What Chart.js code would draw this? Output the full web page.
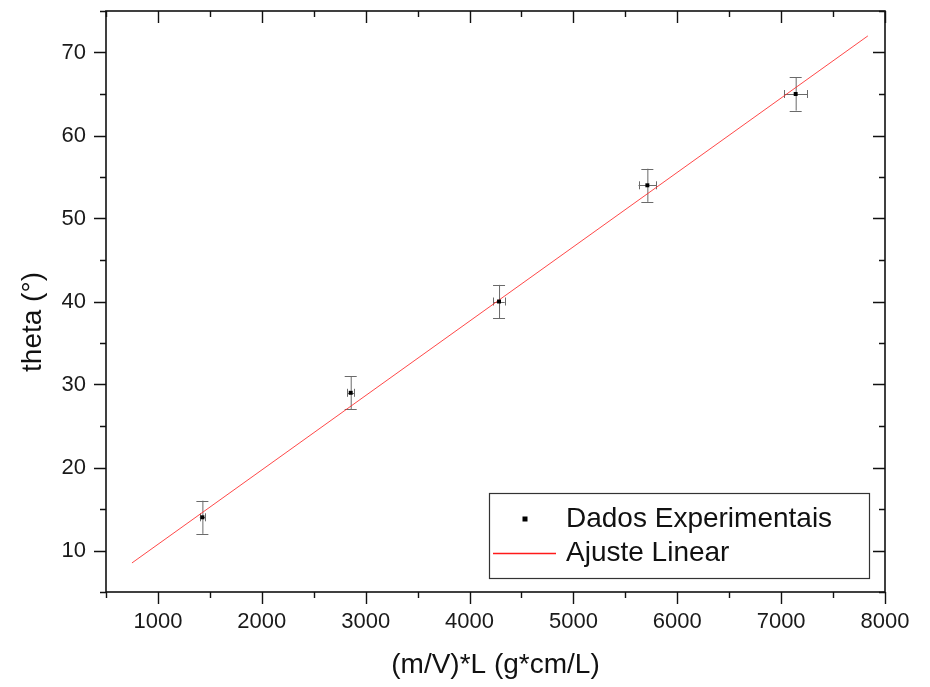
<!DOCTYPE html>
<html>
<head>
<meta charset="utf-8">
<script src="https://cdn.jsdelivr.net/npm/chart.js@4/dist/chart.umd.min.js"></script>
<style>
  html, body { margin: 0; padding: 0; background: #fff; }
  #wrap { width: 930px; height: 687px; }
</style>
</head>
<body>
<div id="wrap"><canvas id="c" width="930" height="687"></canvas></div>
<script>
// ---- data ----
const massLength = [1428, 2856, 4284, 5712, 7140];        // (m/V)*L
const theta = [14, 29, 40, 54, 65];                        // theta (°)
const thetaErr = [2, 2, 2, 2, 2];
const massLengthErr = [25, 35, 55, 85, 113];
const fitX = [750, 7835];
const fitY = [8.5, 72.0];
const xTickValues = [1000, 2000, 3000, 4000, 5000, 6000, 7000, 8000];
const xMinorValues = [500, 1500, 2500, 3500, 4500, 5500, 6500, 7500];
const yTickValues = [10, 20, 30, 40, 50, 60, 70];
const yMinorValues = [5, 15, 25, 35, 45, 55, 65, 75];
const seriesLabels = ['Dados Experimentais', 'Ajuste Linear'];
const xTitle = '(m/V)*L (g*cm/L)';
const yTitle = 'theta (°)';

const FONT = '"Liberation Sans", Arial, Helvetica, sans-serif';

const framePlugin = {
  id: 'frame',
  beforeDatasetsDraw(chart) {
    const ctx = chart.ctx;
    const xs = chart.scales.x, ys = chart.scales.y;
    ctx.save();
    ctx.strokeStyle = '#6a6a6a';
    ctx.lineWidth = 1;
    for (let i = 0; i < massLength.length; i++) {
      const px = xs.getPixelForValue(massLength[i]);
      const py = ys.getPixelForValue(theta[i]);
      const yTop = ys.getPixelForValue(theta[i] + thetaErr[i]);
      const yBot = ys.getPixelForValue(theta[i] - thetaErr[i]);
      const xL = xs.getPixelForValue(massLength[i] - massLengthErr[i]);
      const xR = xs.getPixelForValue(massLength[i] + massLengthErr[i]);
      ctx.beginPath();
      ctx.moveTo(px + 0.5, yTop); ctx.lineTo(px + 0.5, yBot);
      ctx.moveTo(px - 6, Math.round(yTop) + 0.5); ctx.lineTo(px + 6, Math.round(yTop) + 0.5);
      ctx.moveTo(px - 6, Math.round(yBot) + 0.5); ctx.lineTo(px + 6, Math.round(yBot) + 0.5);
      ctx.moveTo(xL, Math.round(py) + 0.5); ctx.lineTo(xR, Math.round(py) + 0.5);
      ctx.moveTo(Math.round(xL) + 0.5, py - 4); ctx.lineTo(Math.round(xL) + 0.5, py + 4);
      ctx.moveTo(Math.round(xR) + 0.5, py - 4); ctx.lineTo(Math.round(xR) + 0.5, py + 4);
      ctx.stroke();
    }
    ctx.restore();
  },
  afterDraw(chart) {
    const ctx = chart.ctx;
    const a = chart.chartArea;
    const xs = chart.scales.x, ys = chart.scales.y;
    ctx.save();
    ctx.strokeStyle = '#111';
    ctx.lineWidth = 1.6;
    ctx.strokeRect(a.left, a.top, a.right - a.left, a.bottom - a.top);
    ctx.lineWidth = 1.4;
    ctx.beginPath();
    const tickX = (vals, len) => {
      vals.forEach(v => {
        const p = Math.round(xs.getPixelForValue(v)) + 0.5;
        ctx.moveTo(p, a.bottom); ctx.lineTo(p, a.bottom + len);
        ctx.moveTo(p, a.top); ctx.lineTo(p, a.top + len);
      });
    };
    const tickY = (vals, len) => {
      vals.forEach(v => {
        const p = Math.round(ys.getPixelForValue(v)) + 0.5;
        ctx.moveTo(a.left, p); ctx.lineTo(a.left - len, p);
        ctx.moveTo(a.right, p); ctx.lineTo(a.right - len, p);
      });
    };
    tickX(xTickValues, 12); tickX(xMinorValues, 6);
    tickY(yTickValues, 12); tickY(yMinorValues, 6);
    ctx.stroke();

    // axis titles
    ctx.fillStyle = '#111';
    ctx.font = '28px ' + FONT;
    ctx.textAlign = 'center';
    ctx.textBaseline = 'middle';
    ctx.fillText(xTitle, (a.left + a.right) / 2, 665);
    ctx.save();
    ctx.translate(33, 322);
    ctx.rotate(-Math.PI / 2);
    ctx.fillText(yTitle, 0, 0);
    ctx.restore();

    // legend
    const lx = 489, ly = 493, lw = 380, lh = 85;
    ctx.fillStyle = '#fff';
    ctx.fillRect(lx, ly, lw, lh);
    ctx.strokeStyle = '#333';
    ctx.lineWidth = 1.2;
    ctx.strokeRect(lx + 0.5, ly + 0.5, lw, lh);
    ctx.fillStyle = '#000';
    ctx.fillRect(522.5, 516.5, 5, 5);
    ctx.strokeStyle = '#ff1a1a';
    ctx.lineWidth = 1.3;
    ctx.beginPath();
    ctx.moveTo(493, 553.5); ctx.lineTo(556, 553.5);
    ctx.stroke();
    ctx.fillStyle = '#111';
    ctx.font = '28px ' + FONT;
    ctx.textAlign = 'left';
    ctx.textBaseline = 'middle';
    ctx.fillText(seriesLabels[0], 566, 519);
    ctx.fillText(seriesLabels[1], 566, 553);
    ctx.restore();
  }
};

function zeroPad(s) {
  s.paddingTop = 0; s.paddingBottom = 0; s.paddingLeft = 0; s.paddingRight = 0;
}

new Chart(document.getElementById('c'), {
  type: 'scatter',
  data: {
    datasets: [
      {
        label: seriesLabels[0],
        data: massLength.map((x, i) => ({ x: x, y: theta[i] })),
        pointStyle: 'rect',
        pointRadius: 2.8,
        pointHoverRadius: 2.8,
        backgroundColor: '#000',
        borderColor: '#000',
        borderWidth: 0,
        order: 0
      },
      {
        label: seriesLabels[1],
        type: 'line',
        data: fitX.map((x, i) => ({ x: x, y: fitY[i] })),
        showLine: true,
        borderColor: 'rgba(255, 40, 40, 0.85)',
        borderWidth: 1,
        pointRadius: 0,
        fill: false,
        order: 1
      }
    ]
  },
  options: {
    responsive: false,
    animation: false,
    devicePixelRatio: 1,
    layout: { padding: { top: 11, right: 45, left: 0, bottom: 0 } },
    plugins: { legend: { display: false }, tooltip: { enabled: false } },
    scales: {
      x: {
        type: 'linear',
        min: 500,
        max: 8000,
        afterFit(s) { s.height = 95; zeroPad(s); },
        afterBuildTicks(s) { s.ticks = xTickValues.map(v => ({ value: v })); },
        grid: { display: false, drawTicks: false },
        border: { display: false },
        ticks: {
          color: '#1a1a1a',
          font: { size: 22, family: FONT },
          padding: 17,
          maxRotation: 0,
          autoSkip: false,
          callback: v => String(v)
        }
      },
      y: {
        type: 'linear',
        min: 5,
        max: 75,
        afterFit(s) { s.width = 106; zeroPad(s); },
        afterBuildTicks(s) { s.ticks = yTickValues.map(v => ({ value: v })); },
        grid: { display: false, drawTicks: false },
        border: { display: false },
        ticks: {
          color: '#1a1a1a',
          font: { size: 22, family: FONT },
          padding: 20,
          autoSkip: false,
          callback: v => String(v)
        }
      }
    }
  },
  plugins: [framePlugin]
});
</script>
</body>
</html>
